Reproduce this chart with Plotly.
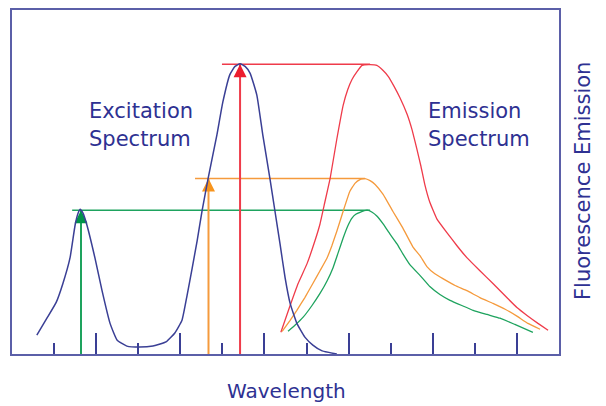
import plotly.graph_objects as go

# ---- data (arbitrary units: wavelength 0-13, intensity 0-100) ----
exc_x = [0.59, 0.83, 1.05, 1.21, 1.38, 1.50, 1.57, 1.62, 1.69, 1.78, 1.97, 2.14, 2.33, 2.50,
         2.73, 3.04, 3.35, 3.52, 3.68, 3.87, 4.04, 4.16, 4.28, 4.40, 4.52, 4.66, 4.87, 5.01,
         5.18, 5.30, 5.42, 5.54, 5.66, 5.82, 5.96, 6.13, 6.25, 6.37, 6.49, 6.61, 6.77, 6.96,
         7.15, 7.37, 7.72]
exc_y = [5.5, 10.4, 15.0, 20.5, 28.0, 37.5, 40.9, 42.1, 40.9, 37.5, 28.0, 18.4, 8.9, 4.0,
         2.3, 2.0, 2.3, 2.9, 3.7, 6.1, 9.8, 17.0, 24.8, 32.9, 41.8, 51.0, 63.7, 73.2,
         81.3, 83.6, 84.4, 83.6, 81.6, 75.2, 63.7, 51.0, 41.5, 32.0, 22.2, 14.7, 8.9, 4.9,
         2.6, 0.9, 0.0]

red_x = [6.39, 6.61, 6.80, 7.01, 7.20, 7.32, 7.44, 7.56, 7.72, 7.87, 7.98, 8.08, 8.20, 8.32,
         8.51, 8.67, 8.82, 8.94, 9.08, 9.22, 9.39, 9.51, 9.62, 9.72, 9.81, 9.93, 10.10, 10.34,
         10.58, 10.81, 11.12, 11.43, 11.76, 12.00, 12.24, 12.50, 12.74]
red_y = [6.3, 14.1, 20.5, 26.2, 32.9, 37.8, 44.4, 51.0, 62.5, 72.3, 76.9, 79.8, 82.1, 83.9,
         84.1, 83.9, 82.4, 80.7, 77.8, 74.5, 69.7, 65.1, 59.7, 54.5, 49.3, 44.1, 39.2, 35.2,
         31.4, 28.0, 24.2, 20.5, 16.4, 13.5, 11.2, 8.9, 6.9]

orange_x = [6.42, 6.61, 6.77, 6.96, 7.15, 7.32, 7.49, 7.60, 7.72, 7.87, 8.03, 8.15, 8.27, 8.39,
            8.51, 8.63, 8.82, 9.05, 9.29, 9.53, 9.70, 9.86, 10.05, 10.24, 10.53, 10.81, 11.12,
            11.43, 11.72, 12.00, 12.26, 12.55]
orange_y = [6.6, 9.8, 12.7, 16.4, 20.5, 24.2, 28.0, 31.4, 35.7, 41.5, 47.3, 49.6, 50.7, 51.0,
            50.4, 49.3, 46.4, 41.5, 36.6, 31.1, 28.5, 25.4, 23.3, 21.9, 19.9, 18.4, 16.4,
            14.7, 13.0, 11.0, 8.9, 7.2]

green_x = [6.56, 6.73, 6.92, 7.13, 7.32, 7.49, 7.63, 7.75, 7.87, 7.98, 8.08, 8.17, 8.27, 8.44,
           8.56, 8.67, 8.82, 8.98, 9.15, 9.29, 9.46, 9.70, 9.93, 10.17, 10.41, 10.69, 10.96,
           11.29, 11.60, 11.95, 12.38]
green_y = [6.6, 8.4, 10.7, 14.1, 17.6, 21.3, 25.1, 29.4, 33.7, 37.2, 39.5, 40.6, 41.2, 41.8,
           41.2, 40.1, 37.8, 34.9, 32.0, 29.1, 25.9, 22.8, 19.6, 17.3, 15.6, 14.1, 12.7,
           11.5, 10.4, 8.6, 6.3]

# excitation wavelengths, emission peak positions, peak intensities, line start
ex_wl = [1.64, 4.67, 5.42]
em_peak = [8.51, 8.39, 8.51]
peak_int = [41.8, 51.0, 84.2]
hline_start = [1.43, 4.35, 4.99]
line_colors = ["#1ea35e", "#f59a3c", "#ef3b4a"]
head_colors = ["#00944a", "#f7941d", "#ec1c2e"]

short_ticks = [1, 3, 5, 7, 9, 11]
long_ticks = [2, 4, 6, 8, 10, 12]

NAVY = "#2e3192"
CURVE = "#3a3f95"
FRAME = "#5b5fa8"
FONT = "DejaVu Sans"

fig = go.Figure()

# horizontal reference lines and vertical arrows
for i in range(3):
    fig.add_trace(go.Scatter(x=[hline_start[i], em_peak[i]], y=[peak_int[i], peak_int[i]],
                             mode="lines", line=dict(color=line_colors[i], width=1.5),
                             hoverinfo="skip", showlegend=False))
for i in range(3):
    fig.add_trace(go.Scatter(x=[ex_wl[i], ex_wl[i]], y=[0, peak_int[i]],
                             mode="lines", line=dict(color=line_colors[i], width=2),
                             hoverinfo="skip", showlegend=False))
    fig.add_trace(go.Scatter(x=[ex_wl[i]], y=[peak_int[i]], mode="markers",
                             marker=dict(symbol="arrow-up", size=13, color=head_colors[i],
                                         line=dict(width=0)),
                             hoverinfo="skip", showlegend=False))

# emission spectra
for xs, ys, c in [(red_x, red_y, line_colors[2]), (orange_x, orange_y, line_colors[1]),
                  (green_x, green_y, line_colors[0])]:
    fig.add_trace(go.Scatter(x=xs, y=ys, mode="lines",
                             line=dict(color=c, width=1.3, shape="spline", smoothing=0.3),
                             hoverinfo="skip", showlegend=False))

# excitation spectrum (on overlay axis that carries the long ticks)
fig.add_trace(go.Scatter(x=exc_x, y=exc_y, mode="lines", xaxis="x2",
                         line=dict(color=CURVE, width=1.5, shape="spline", smoothing=0.4),
                         hoverinfo="skip", showlegend=False))

fig.add_annotation(x=1.78, y=70.5, text="Excitation", showarrow=False, xanchor="left",
                   yanchor="middle", font=dict(family=FONT, size=21, color=NAVY))
fig.add_annotation(x=1.78, y=62.4, text="Spectrum", showarrow=False, xanchor="left",
                   yanchor="middle", font=dict(family=FONT, size=21, color=NAVY))
fig.add_annotation(x=9.84, y=70.5, text="Emission", showarrow=False, xanchor="left",
                   yanchor="middle", font=dict(family=FONT, size=21, color=NAVY))
fig.add_annotation(x=9.84, y=62.4, text="Spectrum", showarrow=False, xanchor="left",
                   yanchor="middle", font=dict(family=FONT, size=21, color=NAVY))

fig.add_annotation(x=0.501, y=-0.108, xref="paper", yref="paper", text="Wavelength",
                   showarrow=False, xanchor="center", yanchor="middle",
                   font=dict(family=FONT, size=20, color=NAVY))
fig.add_annotation(x=1.044, y=0.503, xref="paper", yref="paper", text="Fluorescence Emission",
                   showarrow=False, xanchor="center", yanchor="middle", textangle=-90,
                   font=dict(family=FONT, size=21, color=NAVY))

fig.update_layout(
    width=598, height=398,
    margin=dict(l=4, r=47, t=0, b=52),
    paper_bgcolor="white", plot_bgcolor="white",
    xaxis=dict(range=[0, 13], showgrid=False, zeroline=False, showticklabels=False,
               tickvals=short_ticks, ticks="inside", ticklen=11, tickwidth=2, tickcolor=CURVE,
               showline=True, mirror=True, linecolor=FRAME, linewidth=2),
    xaxis2=dict(range=[0, 13], overlaying="x", anchor="y", side="bottom", showgrid=False,
                zeroline=False, showticklabels=False, tickvals=long_ticks, ticks="inside",
                ticklen=21, tickwidth=2, tickcolor=CURVE, showline=False),
    yaxis=dict(range=[0, 100], showgrid=False, zeroline=False, showticklabels=False,
               ticks="", showline=True, mirror=True, linecolor=FRAME, linewidth=2),
)

fig.write_html("out.html")
